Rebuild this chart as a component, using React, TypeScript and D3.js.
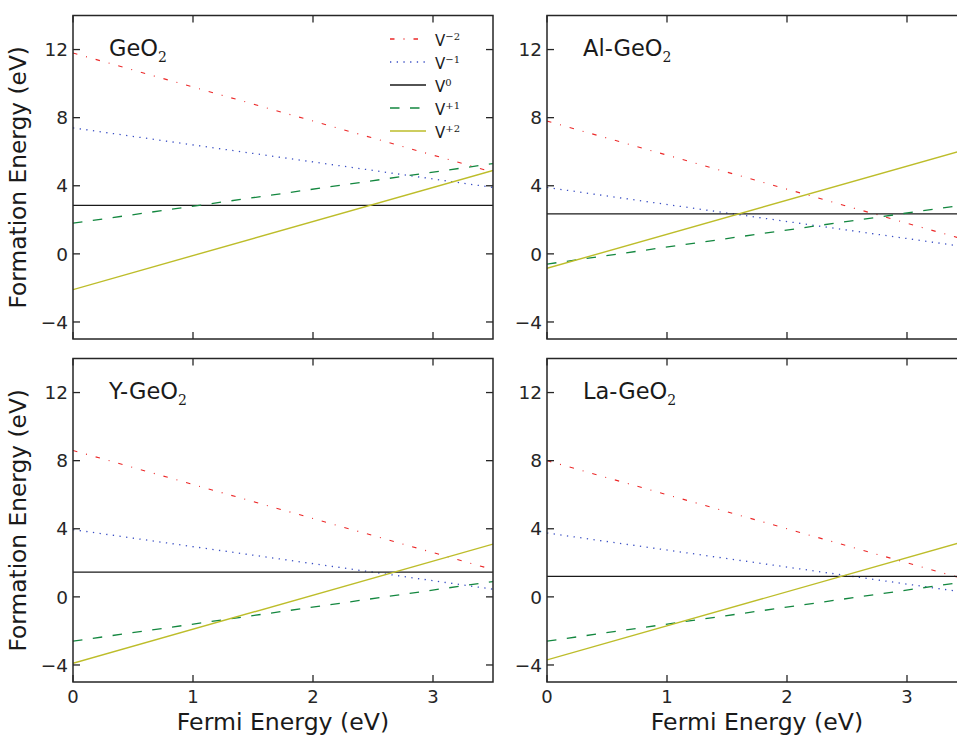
import { useEffect, useRef } from "react";
import * as d3 from "d3";

// panel titles (subscript 2 added when drawing)
const panelNames = ["GeO", "Al-GeO", "Y-GeO", "La-GeO"];
const fermiRange = [0, 3.5];
const xTicks = [0, 1, 2, 3];
const yTicks = [-4, 0, 4, 8, 12];

// formation energy (eV) at Fermi energy 0 and 3.5 eV, per panel
const vMinus2 = [[11.8, 4.8], [7.8, 0.8], [8.6, 1.6], [8.0, 1.0]];
const vMinus1 = [[7.4, 3.9], [3.9, 0.4], [3.95, 0.45], [3.75, 0.25]];
const vZero = [[2.85, 2.85], [2.35, 2.35], [1.45, 1.45], [1.2, 1.2]];
const vPlus1 = [[1.8, 5.3], [-0.6, 2.9], [-2.6, 0.9], [-2.6, 0.9]];
const vPlus2 = [[-2.1, 4.9], [-0.85, 6.15], [-3.9, 3.1], [-3.7, 3.3]];

const seriesLabels = ["−2", "−1", "0", "+1", "+2"];
const seriesData = [vMinus2, vMinus1, vZero, vPlus1, vPlus2];
const seriesStyle = [
    { color: "#ec2828", dash: "4.5,9,1,9", width: 1.1 },
    { color: "#3a4fc4", dash: "1.3,5.4", width: 1.3 },
    { color: "#1a1a1a", dash: null, width: 1.3 },
    { color: "#13873f", dash: "9.5,10.5", width: 1.3 },
    { color: "#bdbd2a", dash: null, width: 1.4 },
];

const axisColor = "#262626";
const sans = "'DejaVu Sans', sans-serif";
const serif = "'DejaVu Serif', serif";

function App() {
    const svgRef = useRef(null);

    useEffect(() => {
        const svg = d3.select(svgRef.current);
        svg.selectAll("*").remove();

        const cols = [73, 547];
        const rows = [15.5, 358.5];
        const pw = 420;
        const ph = 323.5;

        panelNames.forEach((name, i) => {
            const left = cols[i % 2];
            const top = rows[Math.floor(i / 2)];
            const bottomRow = i >= 2;

            const x = d3.scaleLinear().domain(fermiRange).range([left, left + pw]);
            const y = d3.scaleLinear().domain([-5, 14]).range([top + ph, top]);

            const g = svg.append("g");
            const clipId = "clip" + i;
            svg.append("clipPath")
                .attr("id", clipId)
                .append("rect")
                .attr("x", left)
                .attr("y", top)
                .attr("width", pw)
                .attr("height", ph);

            // ---- lines ----
            const line = d3
                .line()
                .x((d) => x(d[0]))
                .y((d) => y(d[1]));
            const lines = g.append("g").attr("clip-path", `url(#${clipId})`);
            seriesData.forEach((s, k) => {
                const pts = s[i].map((v, j) => [fermiRange[j], v]);
                const st = seriesStyle[k];
                lines
                    .append("path")
                    .attr("d", line(pts))
                    .attr("fill", "none")
                    .attr("stroke", st.color)
                    .attr("stroke-width", st.width)
                    .attr("stroke-dasharray", st.dash);
            });

            // ---- ticks (inward, all four sides) ----
            const tl = 7;
            yTicks.forEach((t) => {
                g.append("line")
                    .attr("x1", left).attr("x2", left + tl)
                    .attr("y1", y(t)).attr("y2", y(t))
                    .attr("stroke", axisColor).attr("stroke-width", 1.3);
                g.append("line")
                    .attr("x1", left + pw).attr("x2", left + pw - tl)
                    .attr("y1", y(t)).attr("y2", y(t))
                    .attr("stroke", axisColor).attr("stroke-width", 1.3);
                g.append("text")
                    .attr("x", left - 5)
                    .attr("y", y(t) + 6.7)
                    .attr("text-anchor", "end")
                    .attr("font-family", sans)
                    .attr("font-size", 18.5)
                    .attr("fill", axisColor)
                    .text(t < 0 ? "−" + Math.abs(t) : t);
            });
            xTicks.forEach((t) => {
                g.append("line")
                    .attr("x1", x(t)).attr("x2", x(t))
                    .attr("y1", top + ph).attr("y2", top + ph - tl)
                    .attr("stroke", axisColor).attr("stroke-width", 1.3);
                g.append("line")
                    .attr("x1", x(t)).attr("x2", x(t))
                    .attr("y1", top).attr("y2", top + tl)
                    .attr("stroke", axisColor).attr("stroke-width", 1.3);
                if (bottomRow) {
                    g.append("text")
                        .attr("x", x(t))
                        .attr("y", top + ph + 21)
                        .attr("text-anchor", "middle")
                        .attr("font-family", sans)
                        .attr("font-size", 18)
                        .attr("fill", axisColor)
                        .text(t);
                }
            });

            // ---- frame ----
            g.append("rect")
                .attr("x", left)
                .attr("y", top)
                .attr("width", pw)
                .attr("height", ph)
                .attr("fill", "none")
                .attr("stroke", axisColor)
                .attr("stroke-width", 1.5);

            // ---- panel title ----
            const title = g
                .append("text")
                .attr("x", left + 36)
                .attr("y", top + 40)
                .attr("font-family", sans)
                .attr("font-size", 22.5)
                .attr("fill", "#1a1a1a");
            title.append("tspan").text(name);
            title
                .append("tspan")
                .attr("font-family", serif)
                .attr("font-size", 14)
                .attr("dy", 6)
                .text("2");

            // ---- axis labels ----
            if (i % 2 === 0) {
                g.append("text")
                    .attr("transform", `translate(25.5, ${top + ph / 2}) rotate(-90)`)
                    .attr("text-anchor", "middle")
                    .attr("font-family", sans)
                    .attr("font-size", 23.3)
                    .attr("fill", "#1a1a1a")
                    .text("Formation Energy (eV)");
            }
            if (bottomRow) {
                g.append("text")
                    .attr("x", left + pw / 2)
                    .attr("y", 729.5)
                    .attr("text-anchor", "middle")
                    .attr("font-family", sans)
                    .attr("font-size", 23.6)
                    .attr("fill", "#1a1a1a")
                    .text("Fermi Energy (eV)");
            }
        });

        // ---- legend (first panel) ----
        const leg = svg.append("g");
        seriesLabels.forEach((lab, k) => {
            const yy = 39 + k * 23;
            const st = seriesStyle[k];
            leg.append("line")
                .attr("x1", 390).attr("x2", 426)
                .attr("y1", yy).attr("y2", yy)
                .attr("stroke", st.color)
                .attr("stroke-width", st.width + 0.2)
                .attr("stroke-dasharray", st.dash);
            const t = leg
                .append("text")
                .attr("x", 435)
                .attr("y", yy + 7)
                .attr("font-family", sans)
                .attr("font-size", 15)
                .attr("fill", "#1a1a1a");
            t.append("tspan").text("V");
            t.append("tspan")
                .attr("font-family", serif)
                .attr("font-size", 10)
                .attr("dy", -6)
                .text(lab);
        });
    }, []);

    return (
        <svg
            ref={svgRef}
            width={957}
            height={735}
            style={{ position: "absolute", left: 0, top: 0, background: "white" }}
        ></svg>
    );
}

export default App;
